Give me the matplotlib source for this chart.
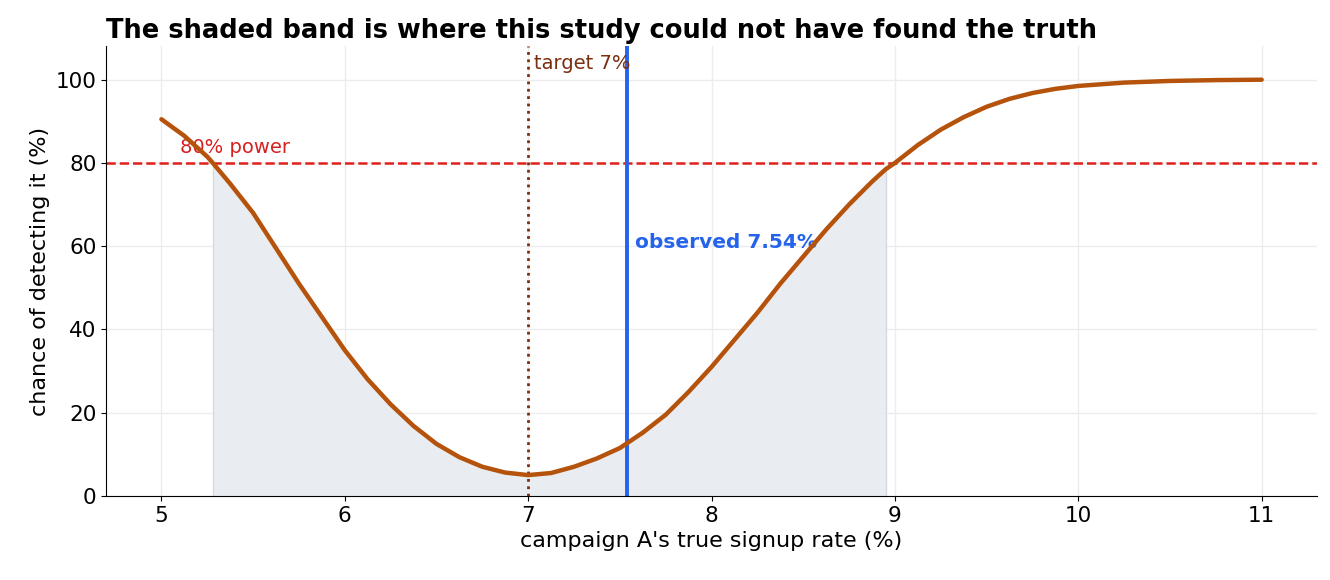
import matplotlib
matplotlib.use("Agg")
import matplotlib.pyplot as plt
import numpy as np

# values
rate = [5.0, 5.125, 5.25, 5.28, 5.375, 5.5, 5.625, 5.75, 5.875, 6.0, 6.125, 6.25, 6.375, 6.5,
        6.625, 6.75, 6.875, 7.0, 7.125, 7.25, 7.375, 7.5, 7.625, 7.75, 7.875, 8.0, 8.125,
        8.25, 8.375, 8.5, 8.625, 8.75, 8.875, 8.95, 9.0, 9.125, 9.25, 9.375, 9.5, 9.625,
        9.75, 9.875, 10.0, 10.25, 10.5, 10.75, 11.0]
power = [90.5, 86.5, 81.5, 80.0, 75.0, 68.0, 59.5, 51.0, 43.0, 35.0, 28.0, 22.0, 16.8, 12.5,
         9.3, 7.0, 5.6, 5.0, 5.5, 7.0, 9.0, 11.5, 15.2, 19.5, 25.0, 31.0, 37.5,
         44.0, 51.0, 57.5, 64.0, 70.0, 75.5, 78.5, 80.0, 84.3, 88.0, 91.0, 93.5, 95.4,
         96.8, 97.8, 98.5, 99.3, 99.7, 99.9, 100.0]
band_lo, band_hi = 5.28, 8.95
target = 7.0
observed = 7.54
power_line = 80

x = np.array(rate)
y = np.array(power)

fig, ax = plt.subplots(figsize=(13.3, 5.8), dpi=100)
ax.fill_between(x, 0, y, where=(x >= band_lo) & (x <= band_hi), color="#e8ecf2", alpha=0.95, lw=0)
ax.plot([band_lo, band_lo], [0, 80], color="#d5dae2", lw=1)
ax.plot([band_hi, band_hi], [0, 79], color="#d5dae2", lw=1)
ax.plot(x, y, color="#b5530c", lw=3.2, solid_capstyle="round", solid_joinstyle="round", zorder=4)
ax.axhline(power_line, color="#e0201b", ls="--", lw=1.8)
ax.axvline(target, color="#7a2e0e", ls=":", lw=2)
ax.axvline(observed, color="#2563eb", lw=2.8)

ax.text(5.1, 82.5, "80% power", color="#d62020", fontsize=14)
ax.text(target + 0.03, 104, "target 7%", color="#7a2e0e", fontsize=14, va="center")
ax.text(observed + 0.04, 61, "observed 7.54%", color="#2563eb", fontsize=14.5,
        fontweight="bold", va="center")

ax.set_xlim(4.7, 11.3)
ax.set_ylim(0, 108)
ax.set_xticks(range(5, 12))
ax.set_yticks(range(0, 101, 20))
ax.tick_params(labelsize=15.5)
ax.grid(color="#ececec", lw=1)
ax.set_axisbelow(True)
for s in ["top", "right"]:
    ax.spines[s].set_visible(False)
ax.set_xlabel("campaign A's true signup rate (%)", fontsize=16)
ax.set_ylabel("chance of detecting it (%)", fontsize=16)
ax.set_title("The shaded band is where this study could not have found the truth",
             loc="left", fontsize=18.5, fontweight="bold", pad=6)

plt.subplots_adjust(left=0.08, right=0.99, top=0.92, bottom=0.145)
plt.savefig("out.png")
